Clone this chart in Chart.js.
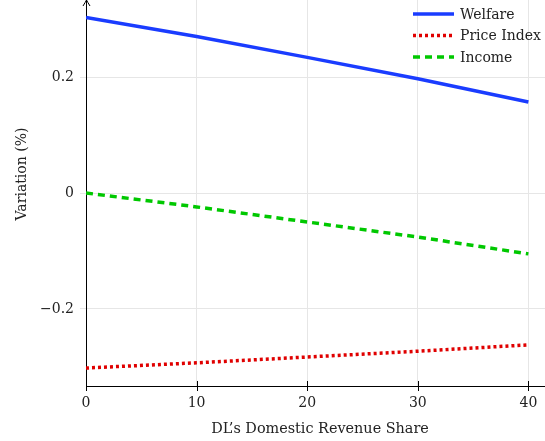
<!DOCTYPE html>
<html>
<head>
<meta charset="utf-8">
<script src="https://cdn.jsdelivr.net/npm/chart.js@4/dist/chart.umd.min.js"></script>
<style>
  html, body { margin: 0; padding: 0; background: #fff; }
  #wrap { width: 545px; height: 441px; }
</style>
</head>
<body>
<div id="wrap"><canvas id="chart" width="545" height="441"></canvas></div>
<script>
// values
var shares = [0, 10, 20, 30, 40];
var welfare = [0.303, 0.270, 0.234, 0.197, 0.157];
var priceIndex = [-0.302, -0.293, -0.283, -0.273, -0.262];
var income = [0, -0.024, -0.050, -0.076, -0.105];
var xTicks = [0, 10, 20, 30, 40];
var yTicks = [-0.2, 0, 0.2];

var FONT = "'DejaVu Serif', serif";

function pts(ys) {
	var out = [];
	for (var i = 0; i < shares.length; i++) out.push({x: shares[i], y: ys[i]});
	return out;
}

// legend, axis titles, arrow and dark x ticks
var decor = {
	id: "decor",
	afterDraw: function(chart) {
		var ctx = chart.ctx, a = chart.chartArea;
		var xs = chart.scales.x;
		ctx.save();
		ctx.strokeStyle = "#000";
		ctx.lineWidth = 1;
		// x tick marks crossing the axis
		xTicks.forEach(function(v) {
			var px = Math.round(xs.getPixelForValue(v)) + 0.5;
			ctx.beginPath();
			ctx.moveTo(px, a.bottom - 5);
			ctx.lineTo(px, a.bottom + 5);
			ctx.stroke();
		});
		// arrow at the top of the y axis
		var lx = Math.round(a.left) + 0.5;
		ctx.beginPath();
		ctx.moveTo(lx - 3.5, a.top + 6);
		ctx.quadraticCurveTo(lx - 1, a.top + 2, lx, a.top);
		ctx.quadraticCurveTo(lx + 1, a.top + 2, lx + 3.5, a.top + 6);
		ctx.stroke();

		// axis titles
		ctx.fillStyle = "#222";
		ctx.font = "14.4px " + FONT;
		ctx.textAlign = "center";
		ctx.textBaseline = "alphabetic";
		ctx.fillText("DL\u2019s Domestic Revenue Share", 320, 433);
		ctx.save();
		ctx.translate(26, 174);
		ctx.rotate(-Math.PI / 2);
		ctx.font = "14px " + FONT;
		ctx.fillText("Variation (%)", 0, 0);
		ctx.restore();

		// legend
		var x0 = 413, x1 = 454, tx = 460, y0 = 14, dy = 21.5;
		ctx.font = "14px " + FONT;
		ctx.textBaseline = "middle";
		ctx.textAlign = "left";
		chart.data.datasets.forEach(function(ds, i) {
			var y = y0 + i * dy;
			ctx.strokeStyle = ds.borderColor;
			ctx.lineWidth = ds.borderWidth;
			ctx.setLineDash(ds.borderDash || []);
			ctx.beginPath();
			ctx.moveTo(x0, y);
			ctx.lineTo(x1, y);
			ctx.stroke();
			ctx.setLineDash([]);
			ctx.fillStyle = "#222";
			ctx.fillText(ds.label, tx, y + 1);
		});
		ctx.restore();
	}
};

new Chart(document.getElementById("chart"), {
	type: "line",
	data: {
		datasets: [
			{label: "Welfare", data: pts(welfare), borderColor: "#1a3cff", borderWidth: 3.5, pointRadius: 0},
			{label: "Price Index", data: pts(priceIndex), borderColor: "#e00000", borderWidth: 3.5, borderDash: [3, 3], pointRadius: 0},
			{label: "Income", data: pts(income), borderColor: "#00c800", borderWidth: 3.5, borderDash: [7, 5], pointRadius: 0}
		]
	},
	options: {
		responsive: false,
		animation: false,
		layout: {padding: 0},
		plugins: {legend: {display: false}, tooltip: {enabled: false}},
		scales: {
			x: {
				type: "linear",
				min: 0,
				max: 41.5,
				afterBuildTicks: function(s) { s.ticks = xTicks.map(function(v) { return {value: v}; }); },
				afterFit: function(s) { s.height = 55; s.paddingLeft = 0; s.paddingRight = 0; },
				grid: {color: "#e6e6e6", drawTicks: false},
				border: {color: "#000", width: 1},
				ticks: {color: "#222", font: {family: FONT, size: 14}, padding: 9, maxRotation: 0}
			},
			y: {
				min: -0.333,
				max: 0.333,
				afterBuildTicks: function(s) { s.ticks = yTicks.map(function(v) { return {value: v}; }); },
				afterFit: function(s) { s.width = 86; s.paddingTop = 0; s.paddingBottom = 0; },
				grid: {color: "#e6e6e6", tickLength: 6},
				border: {color: "#000", width: 1},
				ticks: {
					color: "#222", font: {family: FONT, size: 14}, padding: 6,
					callback: function(v) { return v < 0 ? "\u2212" + Math.abs(v) : String(v); }
				}
			}
		}
	},
	plugins: [decor]
});
</script>
</body>
</html>
